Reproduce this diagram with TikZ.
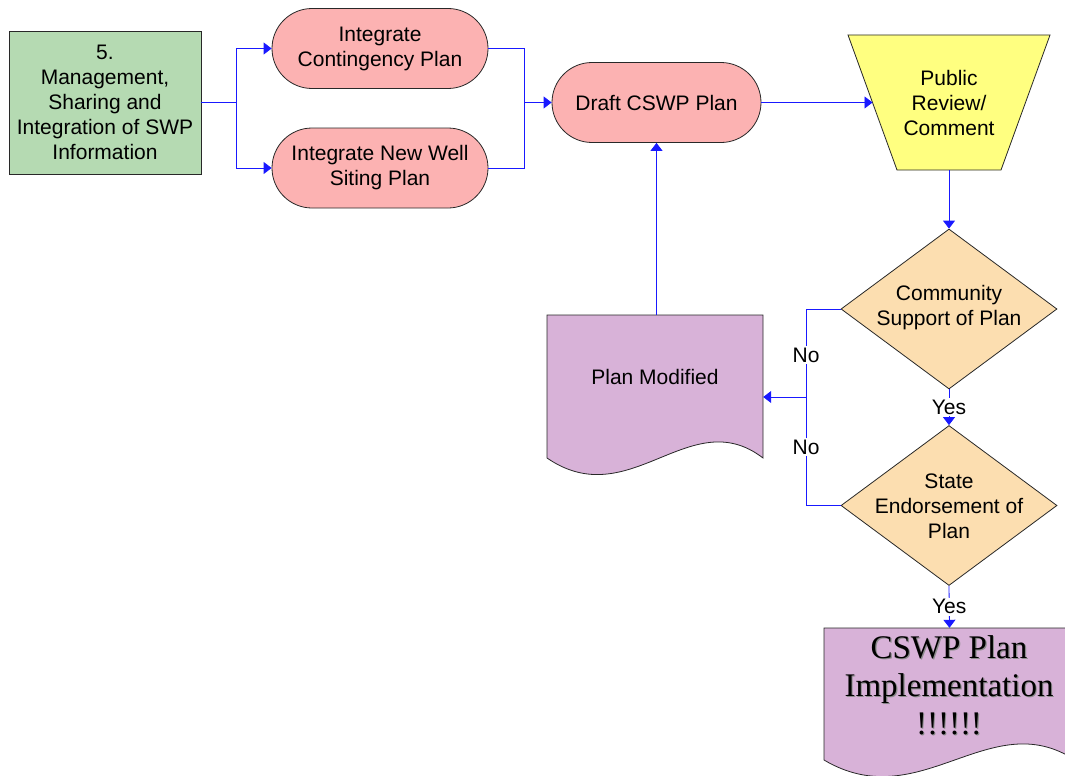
\documentclass[tikz,border=0pt]{standalone}
\usepackage{fontspec}
\setmainfont{Liberation Sans}
\newfontfamily\bannerfont{Liberation Serif}
\usetikzlibrary{arrows.meta,shapes.geometric}

\definecolor{infogreen}{RGB}{181,218,178}
\definecolor{pillpink}{RGB}{252,178,178}
\definecolor{reviewyellow}{RGB}{255,255,128}
\definecolor{decisiontan}{RGB}{252,222,176}
\definecolor{docpurple}{RGB}{216,178,216}
\definecolor{flowblue}{RGB}{25,25,255}
\definecolor{edgegray}{RGB}{40,40,40}

\tikzset{
  txt/.style={font=\fontsize{21}{25}\selectfont, align=center, text=black, inner sep=0pt},
  outline/.style={draw=edgegray, line width=0.8pt},
  infobox/.style={txt, outline, fill=infogreen, minimum width=192pt, minimum height=143pt},
  pill/.style={txt, outline, fill=pillpink, rounded corners=40pt, minimum width=216pt, minimum height=80pt},
  reviewshape/.style={outline, fill=reviewyellow},
  decision/.style={outline, fill=decisiontan, diamond, minimum width=216pt, minimum height=160pt, inner sep=0pt},
  docframe/.style={rectangle, draw=none, inner sep=0pt},
  docshape/.style={outline, fill=docpurple},
  flow/.style={draw=flowblue, line width=0.8pt},
  conn/.style={flow, -{Triangle[length=8pt,width=12pt]}},
  lbl/.style={txt, fill=white, inner sep=1.5pt},
  banner/.style={font=\bannerfont\fontsize{33}{38}\selectfont, align=center, inner sep=0pt}
}

\begin{document}
\begin{tikzpicture}[x=1pt,y=-1pt]
\useasboundingbox (0,0) rectangle (1065,776);
\clip (0,0) rectangle (1065,776);

% process boxes
\node[infobox] (info) at (105,102.5) {5.\\Management,\\Sharing and\\Integration of SWP\\Information};
\node[pill] (cont) at (380,48.5) {Integrate\\Contingency Plan};
\node[pill] (well) at (380,168) {Integrate New Well\\Siting Plan};
\node[pill, minimum width=209pt] (draft) at (656.5,102.5) {Draft CSWP Plan};

% public review (inverted trapezium)
\path[reviewshape] (848,35) -- (1050,35) -- (1001,170) -- (897,170) -- cycle;
\node[txt] (pub) at (949,102.5) {Public\\Review/\\Comment};
\coordinate (pubin) at (872.5,102.5);
\coordinate (pubout) at (949,170);

% decisions
\node[decision] (d1) at (949,309) {};
\node[txt] (d1t) at (949,308) {Community\\Support of Plan};
\node[decision] (d2) at (949,505.5) {};
\node[txt] (d2t) at (949,506) {State\\Endorsement of\\Plan};

% document: plan modified
\path[docshape] (547,315) -- (763,315) -- (763,458)
  .. controls (690,402) and (630,515) .. (547,458) -- cycle;
\node[docframe, minimum width=216pt, minimum height=143pt] (pm) at (655,386.5) {};
\node[txt] (pmt) at (655,377) {Plan Modified};

% document: implementation
\path[docshape] (824,628) -- (1075,628) -- (1075,760)
  .. controls (990,704) and (920,817) .. (824,760) -- cycle;
\node[docframe, minimum width=251pt, minimum height=132pt] (impl) at (949.5,694) {};
\node[banner, text=black!45] (impls) at (950.2,686.2) {CSWP Plan\\Implementation\\!!!!!!};
\node[banner, text=black] (implt) at (949,685) {CSWP Plan\\Implementation\\!!!!!!};

% connectors
\coordinate (split) at (236,102.5);
\coordinate (merge) at (524,102.5);
\coordinate (nojoin) at (806,397);

\draw[flow] (info.east) -- (split);
\draw[conn] (split) |- (cont.west);
\draw[conn] (split) |- (well.west);
\draw[flow] (cont.east) -| (merge);
\draw[flow] (well.east) -| (merge);
\draw[conn] (merge) -- (draft.west);
\draw[conn] (draft.east) -- (pubin);
\draw[conn] (pubout) -- (d1.north);
\draw[conn] (pm.north -| draft.south) -- (draft.south);

\draw[flow] (d1.west) -| (nojoin) |- (d2.west);
\draw[conn] (nojoin) -- (nojoin -| pm.east);
\node[lbl] (no1) at (806,355) {No};
\node[lbl] (no2) at (806,447) {No};

\draw[conn] (d1.south) -- node[lbl] (yes1) {Yes} (d2.north);
\draw[conn] (d2.south) -- node[lbl] (yes2) {Yes} (impl.north);
\end{tikzpicture}
\end{document}
